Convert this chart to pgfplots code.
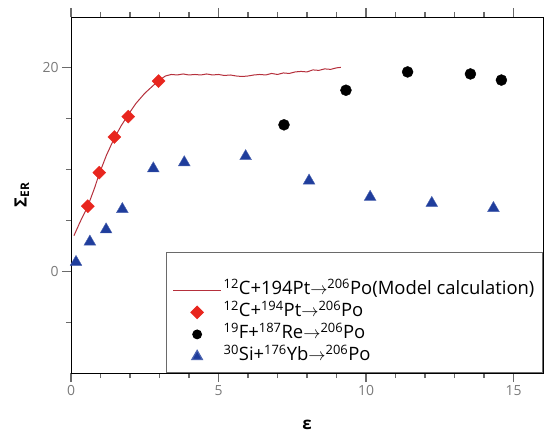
\documentclass[border=0pt]{standalone}
\usepackage{fontspec}
\setmainfont{Open Sans}
\usepackage{pgfplots}
\pgfplotsset{compat=1.18}

\definecolor{axgray}{HTML}{6A6A6A}
\definecolor{lblgray}{HTML}{7A7A7A}
\definecolor{mred}{HTML}{E8261E}
\definecolor{lred}{HTML}{B5303C}
\definecolor{mblue}{HTML}{1F3D9C}

\pgfplotsset{
  markleg/.style={legend image code/.code={
    \draw[mark repeat=2,mark phase=2,##1,mark size=4.3bp]
      plot coordinates {(0bp,0bp) (24bp,0bp) (48bp,0bp)};}},
  trileg/.style={legend image code/.code={
    \draw[mark repeat=2,mark phase=2,##1,mark size=6bp]
      plot coordinates {(0bp,0bp) (24bp,0bp) (48bp,0bp)};}},
  lineleg/.style={legend image code/.code={
    \draw[##1] (0bp,0bp) -- (48bp,0bp);}},
}

\begin{document}
\begin{tikzpicture}
\begin{axis}[
    at={(0,0)}, anchor=south west,
    width=472bp, height=356bp, scale only axis,
    clip=false,
    xmin=0, xmax=16, ymin=-10, ymax=25,
    xtick={0,5,10,15}, minor x tick num=4,
    ytick={0,20}, minor ytick={-5,5,10,15},
    ytick pos=left,
    tick align=outside,
    major tick length=9bp, minor tick length=5bp,
    tick style={axgray, line width=1.2bp},
    tick label style={font=\fontsize{14}{16}\selectfont, text=lblgray},
    /pgf/number format/assume math mode=true,
    xlabel={\textbf{ε}},
    ylabel={\textbf{Σ\textsubscript{ER}}},
    xlabel style={at={(axis description cs:0.5,-0.146)}, anchor=center, font=\fontsize{17}{20}\selectfont},
    ylabel style={at={(axis description cs:-0.104,0.5)}, anchor=center, font=\fontsize{17}{20}\selectfont},
    legend style={at={(rel axis cs:1,0)}, anchor=south east,
      draw=axgray, line width=1.2bp, font=\fontsize{18.5}{21}\selectfont,
      inner xsep=6bp, inner ysep=5bp, row sep=0pt,
      nodes={text height=14bp, text depth=6bp, inner ysep=1bp}},
    legend cell align=left,
  ]
  \addlegendimage{empty legend}
  \addlegendentry{}

  % model calculation
  \addplot[lred, line width=1bp, no marks, lineleg]
  coordinates {
    (0.1,3.5) (0.3,4.8) (0.57,6.4) (0.8,8.2) (0.96,9.6) (1.2,11.4)
    (1.47,13.1) (1.7,14.3) (1.94,15.4) (2.2,16.5) (2.5,17.5) (2.8,18.3)
    (3.0,18.8) (3.2,19.2) (3.4,19.35) (3.6,19.3) (3.8,19.4) (4.0,19.3)
    (4.2,19.35) (4.4,19.3) (4.6,19.4) (4.8,19.3) (5.0,19.35) (5.2,19.25)
    (5.4,19.3) (5.6,19.2) (5.8,19.15) (6.0,19.2) (6.2,19.3) (6.4,19.35)
    (6.6,19.3) (6.8,19.45) (7.0,19.35) (7.2,19.5) (7.4,19.45) (7.6,19.6)
    (7.8,19.65) (8.0,19.6) (8.2,19.8) (8.4,19.75) (8.6,19.9) (8.8,19.85)
    (9.0,20.0) (9.15,20.05)
  };
  \addlegendentry{\textsuperscript{12}C+194Pt$\rightarrow$\textsuperscript{206}Po(Model calculation)}

  \addplot[only marks, mark=square*, mark size=4.6bp,
    mark options={rotate=45, fill=mred, draw=mred}, markleg]
  coordinates {
    (0.57,6.4) (0.96,9.7) (1.47,13.2) (1.94,15.2) (2.97,18.7)
  };
  \addlegendentry{\textsuperscript{12}C+\textsuperscript{194}Pt$\rightarrow$\textsuperscript{206}Po}

  \addplot[only marks, mark=*, mark size=5.5bp,
    mark options={fill=black, draw=black}, markleg]
  coordinates {
    (7.22,14.4) (9.32,17.8) (11.41,19.6) (13.54,19.4) (14.59,18.8)
  };
  \addlegendentry{\textsuperscript{19}F+\textsuperscript{187}Re$\rightarrow$\textsuperscript{206}Po}

  \addplot[only marks, mark=triangle*, mark size=6.8bp,
    mark options={fill=mblue, draw=mblue!80!white}, trileg]
  coordinates {
    (0.17,0.9) (0.64,2.9) (1.19,4.1) (1.74,6.1) (2.79,10.1) (3.84,10.7)
    (5.92,11.3) (8.07,8.9) (10.14,7.3) (12.23,6.7) (14.32,6.2)
  };
  \addlegendentry{\textsuperscript{30}Si+\textsuperscript{176}Yb$\rightarrow$\textsuperscript{206}Po}
\end{axis}
\path (-71bp,-64bp) rectangle (473bp,373bp);
\end{tikzpicture}
\end{document}
